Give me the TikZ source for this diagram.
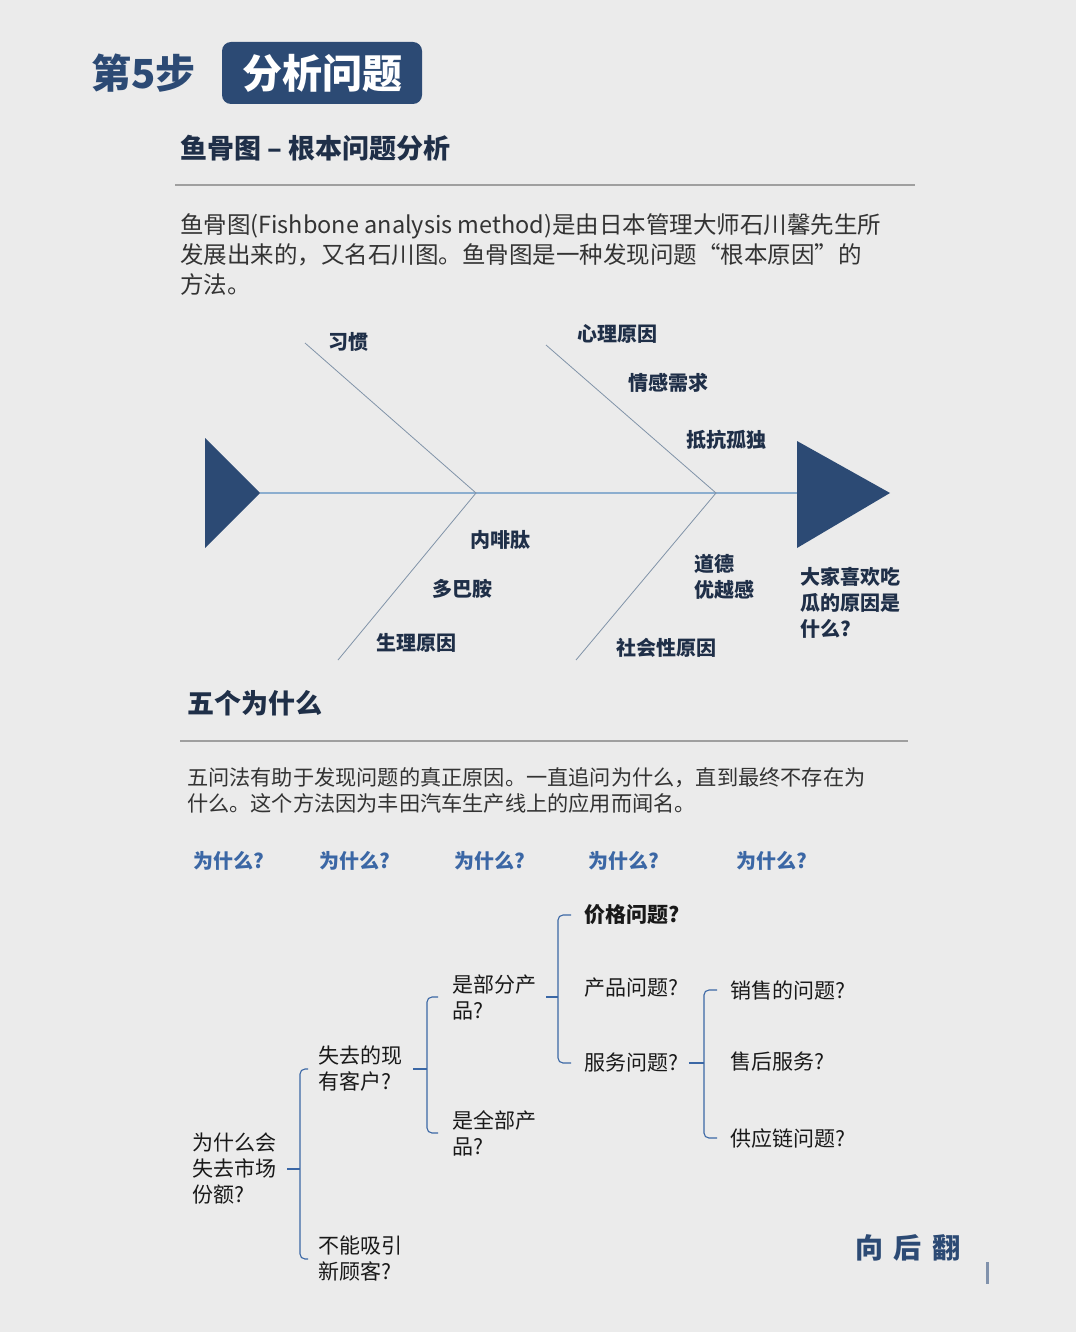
\documentclass[tikz,border=0pt]{standalone}
\usepackage{fontspec}
\setmainfont{Noto Sans CJK SC}
\usetikzlibrary{positioning,calc}
\definecolor{pagegray}{HTML}{EBEBEB}
\definecolor{navy}{HTML}{2C4A74}
\definecolor{ink}{HTML}{1F2F48}
\definecolor{whyblue}{HTML}{3B67A5}
\definecolor{spine}{HTML}{8CAECF}
\definecolor{bone}{HTML}{8093A8}

\begin{document}
\begin{tikzpicture}[x=1pt, y=-1pt,
  every node/.style={inner sep=0pt, outer sep=0pt},
  heading/.style={font=\fontsize{27}{30}\selectfont\bfseries, text=ink, anchor=west},
  para/.style={anchor=west, align=left, text=black!80},
  cause/.style={font=\fontsize{20}{26}\selectfont\bfseries, text=ink, align=left},
  why/.style={font=\fontsize{20}{24}\selectfont\bfseries, text=whyblue},
  leaf/.style={font=\fontsize{21}{26}\selectfont, text=black!90, anchor=west, align=left},
  brace/.style={draw=whyblue, line width=1.1pt, rounded corners=5pt},
  rule/.style={draw=gray!75, line width=1.2pt},
  bonel/.style={draw=bone, line width=0.8pt}
]
\fill[pagegray] (0,0) rectangle (1076,1332);
\useasboundingbox (0,0) rectangle (1076,1332);

% header
\node[anchor=west, text=navy, font=\fontsize{40}{44}\selectfont\bfseries] (stepno) at (91,73) {第5步};
\node[fill=navy, rounded corners=9pt, minimum width=200pt, minimum height=62pt,
      text=white, font=\fontsize{40}{44}\selectfont\bfseries] (stepbox) at (322,73) {分析问题};

% fishbone section
\node[heading] (fishtitle) at (180,148) {鱼骨图 – 根本问题分析};
\draw[rule] (175,185) -- (915,185);
\node[para, font=\fontsize{23.5}{30}\selectfont] (fishtext) at (180,255)
  {鱼骨图(Fishbone analysis method)是由日本管理大师石川馨先生所\\
   发展出来的，又名石川图。鱼骨图是一种发现问题“根本原因”的\\
   方法。};

\coordinate (tail) at (260,493);
\coordinate (head) at (797,493);
\coordinate (j1) at (476,493);
\coordinate (j2) at (716,493);
\coordinate (b1) at (305,343);
\coordinate (b2) at (338,660);
\coordinate (b3) at (546,345);
\coordinate (b4) at (576,660);

\fill[navy] (205,438) -- (tail) -- (205,548) -- cycle;
\fill[navy] (797,441) -- (890,493) -- (797,548) -- cycle;
\draw[spine, line width=1.4pt] (tail) -- (head);
\draw[bonel] (b1) -- (j1) -- (b2);
\draw[bonel] (b3) -- (j2) -- (b4);

\node[cause] (habit) at (348,342) {习惯};
\node[cause] (psych) at (617,334) {心理原因};
\node[cause] (emotion) at (668,383) {情感需求};
\node[cause] (lonely) at (726,440) {抵抗孤独};
\node[cause] (endorph) at (500,540) {内啡肽};
\node[cause] (dopa) at (462,589) {多巴胺};
\node[cause] (physio) at (416,643) {生理原因};
\node[cause, anchor=west] (moral) at (694,577) {道德\\优越感};
\node[cause] (social) at (666,648) {社会性原因};
\node[cause, anchor=west] (effect) at (800,603) {大家喜欢吃\\瓜的原因是\\什么?};

% five whys section
\node[heading] (whytitle) at (187,703) {五个为什么};
\draw[rule] (180,741) -- (908,741);
\node[para, font=\fontsize{21.2}{26}\selectfont] (whytext) at (187,790)
  {五问法有助于发现问题的真正原因。一直追问为什么，直到最终不存在为\\
   什么。这个方法因为丰田汽车生产线上的应用而闻名。};

\foreach \x [count=\i] in {229,355,490,624,772}
  \node[why] (why\i) at (\x,861) {为什么?};

% tree
\node[leaf] (root) at (192,1169) {为什么会\\失去市场\\份额?};
\node[leaf] (lostold) at (318,1069) {失去的现\\有客户?};
\node[leaf] (nonew) at (318,1259) {不能吸引\\新顾客?};
\node[leaf] (someprod) at (452,997) {是部分产\\品?};
\node[leaf] (allprod) at (452,1133) {是全部产\\品?};
\node[leaf, font=\fontsize{21}{26}\selectfont\bfseries] (price) at (584,915) {价格问题?};
\node[leaf] (product) at (584,988) {产品问题?};
\node[leaf] (service) at (584,1063) {服务问题?};
\node[leaf] (sales) at (730,990) {销售的问题?};
\node[leaf] (after) at (730,1062) {售后服务?};
\node[leaf] (supply) at (730,1138) {供应链问题?};

\draw[brace] ([xshift=11pt]root.east) -- ([xshift=24pt]root.east);
\draw[brace] ([xshift=-10pt]lostold.west) -| ([xshift=24pt]root.east) |- ([xshift=-10pt]nonew.west);
\draw[brace] ([xshift=11pt]lostold.east) -- ([xshift=25pt]lostold.east);
\draw[brace] ([xshift=-14pt]someprod.west) -| ([xshift=25pt]lostold.east) |- ([xshift=-14pt]allprod.west);
\draw[brace] ([xshift=10pt]someprod.east) -- ([xshift=22pt]someprod.east);
\draw[brace] ([xshift=-13pt]price.west) -| ([xshift=22pt]someprod.east) |- ([xshift=-13pt]service.west);
\draw[brace] ([xshift=11pt]service.east) -- ([xshift=26pt]service.east);
\draw[brace] ([xshift=-13pt]sales.west) -| ([xshift=26pt]service.east) |- ([xshift=-13pt]supply.west);

% page turn hint
\node[anchor=west, text=navy, font=\fontsize{28}{30}\selectfont\bfseries] (turn) at (855,1248)
  {向\hspace{11pt}后\hspace{11pt}翻};
\fill[navy!60] (986,1262) rectangle (989,1284);
\end{tikzpicture}
\end{document}
